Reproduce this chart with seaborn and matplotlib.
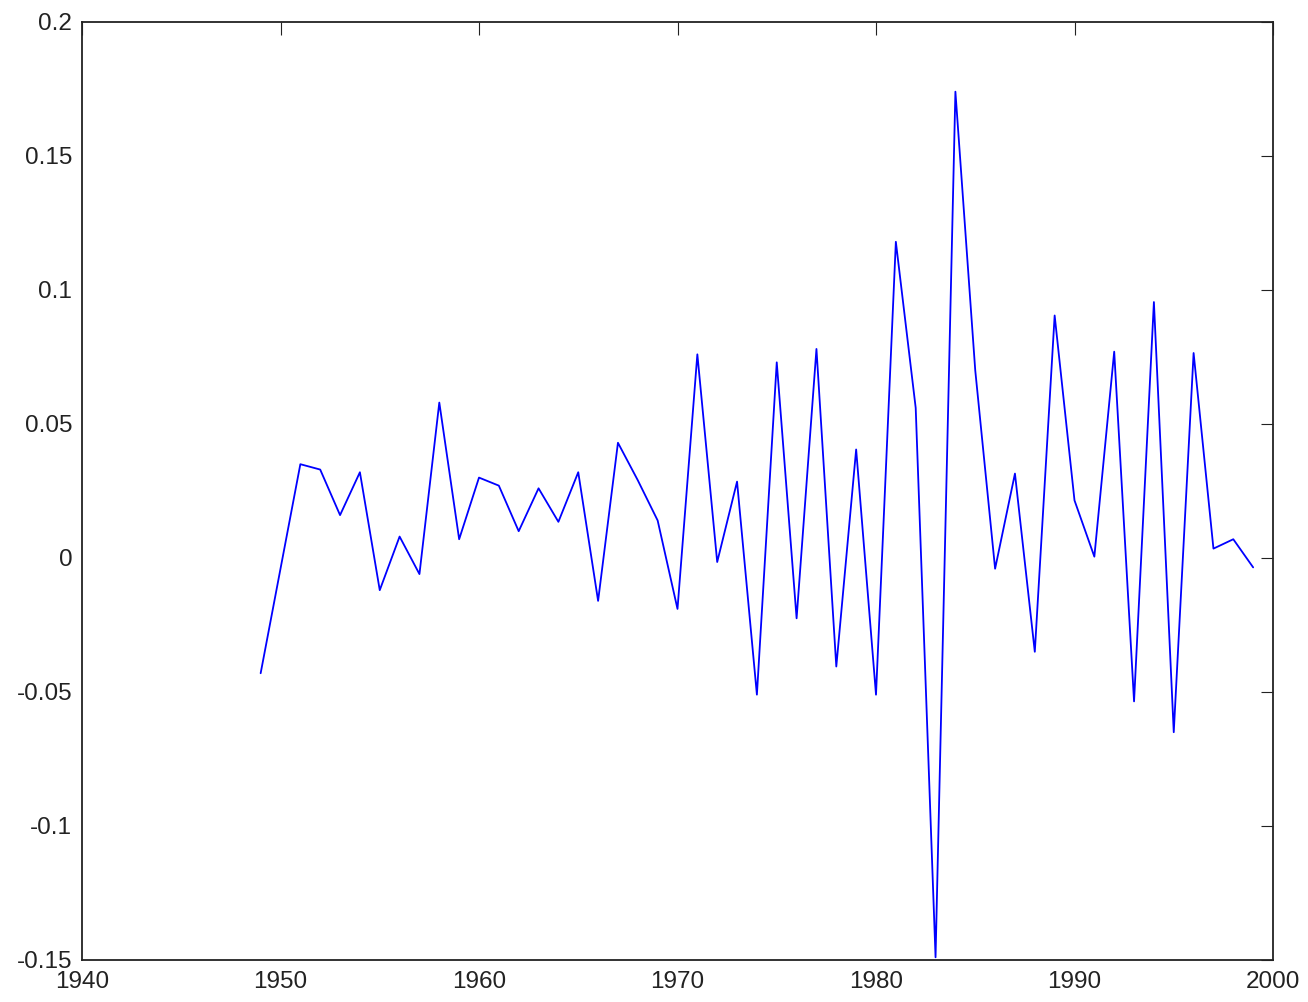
import numpy as np
import pandas as pd
import matplotlib
matplotlib.use('Agg')
import matplotlib.pyplot as plt
from matplotlib import font_manager
import seaborn as sns

# Data
years = list(range(1949, 2000))
values = [-0.043, -0.004, 0.035, 0.033, 0.016, 0.032, -0.012, 0.008, -0.006, 0.058,
          0.007, 0.030, 0.027, 0.010, 0.026, 0.0135, 0.032, -0.016, 0.043, 0.029,
          0.014, -0.019, 0.076, -0.0015, 0.0285, -0.051, 0.073, -0.0225, 0.078, -0.0405,
          0.0405, -0.051, 0.118, 0.056, -0.149, 0.174, 0.070, -0.004, 0.0315, -0.035,
          0.0905, 0.0215, 0.0005, 0.077, -0.0535, 0.0955, -0.065, 0.0765, 0.0035, 0.007,
          -0.0035]

xticks = [1940, 1950, 1960, 1970, 1980, 1990, 2000]
yticks = [-0.15, -0.1, -0.05, 0, 0.05, 0.1, 0.15, 0.2]
ytick_labels = ['-0.15', '-0.1', '-0.05', '0', '0.05', '0.1', '0.15', '0.2']

df = pd.DataFrame({'year': years, 'value': values})

sns.set_theme(style='white')

# narrow font if one is around, otherwise plain Liberation Sans a bit smaller
names = {f.name for f in font_manager.fontManager.ttflist}
narrow = [n for n in ['Liberation Sans Narrow', 'DejaVu Sans Condensed'] if n in names]
if narrow:
    plt.rcParams['font.family'] = [narrow[0], 'DejaVu Sans']
    fsize = 20 if 'Narrow' in narrow[0] else 17
else:
    plt.rcParams['font.family'] = ['Liberation Sans', 'DejaVu Sans']
    fsize = 17.5

fig = plt.figure(figsize=(13.08, 10.02), dpi=100)
ax = fig.add_axes([82 / 1308, 1 - 960 / 1002, (1273 - 82) / 1308, (960 - 22) / 1002])

sns.lineplot(data=df, x='year', y='value', color='#0000ff', linewidth=1.3, ax=ax)

ax.set_xlim(1940, 2000)
ax.set_ylim(-0.15, 0.2)
ax.set_xticks(xticks)
ax.set_xticklabels([str(t) for t in xticks])
ax.set_yticks(yticks)
ax.set_yticklabels(ytick_labels)
ax.set_xlabel('')
ax.set_ylabel('')

ax.tick_params(direction='in', length=9, width=0.8, top=True, right=True,
               labelsize=fsize, colors='#222222')
ax.tick_params(axis='x', pad=8)
ax.tick_params(axis='y', pad=7)
for s in ax.spines.values():
    s.set_color('#222222')
    s.set_linewidth(1.3)

fig.savefig('out.png', dpi=100, facecolor='white')
plt.close()
